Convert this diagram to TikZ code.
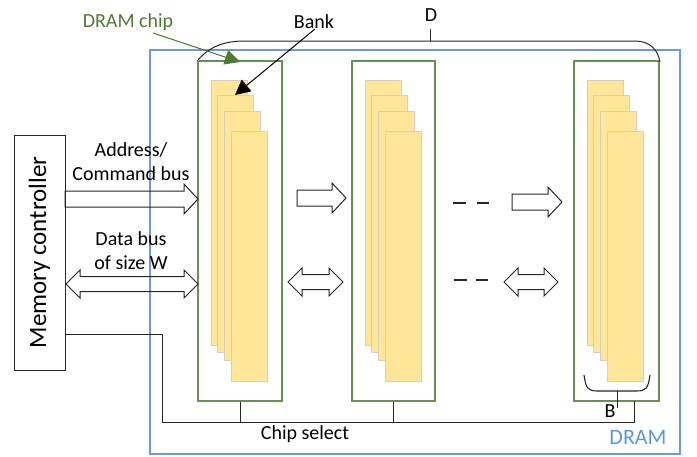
\documentclass[tikz,border=0pt]{standalone}
\usepackage{fontspec}
\setmainfont{Carlito}
\usetikzlibrary{arrows.meta}
\definecolor{chipgreen}{HTML}{6A8F4E}
\definecolor{labgreen}{HTML}{4E7A34}
\definecolor{bankfill}{HTML}{FFE699}
\definecolor{bankedge}{HTML}{D6CFBE}
\definecolor{dramblue}{HTML}{6C9BDB}
\definecolor{dramtext}{HTML}{5B9BD5}
\newcommand\blkR[3]{%
  \draw[blockarrow] (#1,#3-8) -- (#2-14,#3-8) -- (#2-14,#3-15) -- (#2,#3) -- (#2-14,#3+15) -- (#2-14,#3+8) -- (#1,#3+8) -- cycle;}
\newcommand\blkD[3]{%
  \draw[blockarrow] (#1,#3) -- (#1+14,#3-14) -- (#1+14,#3-7.5) -- (#2-14,#3-7.5) -- (#2-14,#3-14) -- (#2,#3) -- (#2-14,#3+14) -- (#2-14,#3+7.5) -- (#1+14,#3+7.5) -- (#1+14,#3+14) -- cycle;}
\begin{document}
\begin{tikzpicture}[x=1pt,y=-1pt,
  txt/.style={font=\fontsize{20}{24}\selectfont, inner sep=0pt, align=center},
  chipbox/.style={draw=chipgreen, line width=1.2pt, fill=white, minimum height=340pt, inner sep=0pt},
  bankbox/.style={draw=bankedge, line width=0.8pt, fill=bankfill, inner sep=0pt, minimum width=36pt},
  blockarrow/.style={draw=black!85, line width=1pt, line join=miter},
  wire/.style={draw=black!85, line width=1pt},
  dashline/.style={draw=black!85, line width=1.3pt}]
\useasboundingbox (0,0) rectangle (697,456);
% DRAM outline
\draw[dramblue, line width=1.2pt] (150,50) rectangle (680,454);
\node[txt, text=dramtext, font=\fontsize{22}{26}\selectfont] (dramlab) at (638,437) {DRAM};
% memory controller
\node[draw=black!85, line width=1pt, rotate=90, minimum width=235pt, minimum height=51pt, inner sep=0pt,
  font=\fontsize{25}{30}\selectfont] (mc) at (39.5,252.5) {Memory controller};
% chips
\node[chipbox, minimum width=84pt] (chip1) at (240,231) {};
\node[chipbox, minimum width=83pt] (chip2) at (393.5,231) {};
\node[chipbox, minimum width=85pt] (chip3) at (616.5,231) {};
% banks
\foreach \c/\L in {1/198, 2/352, 3/574}{
  \node[bankbox, minimum height=265pt] (b\c a) at (\L+31,212.5) {};
  \node[bankbox, minimum height=257pt] (b\c b) at (\L+37,223.5) {};
  \node[bankbox, minimum height=249pt] (b\c c) at (\L+44,235.5) {};
  \node[bankbox, minimum height=250pt] (b\c d) at (\L+51,256) {};
}
% D arc
\coordinate (dl) at (198,60);
\coordinate (dr) at (660,62);
\coordinate (dtick) at (430,41);
\draw[wire] (dl) .. controls (210,46) and (225,41) .. (245,41) -- (635,41) .. controls (650,41) and (658,50) .. (dr);
\draw[wire] (dtick) -- (430,29);
\node[txt] (dlab) at (431,15) {D};
% labels and pointer arrows
\node[txt, text=labgreen] (chiplab) at (128,22) {DRAM chip};
\node[txt] (banklab) at (314,22) {Bank};
\draw[labgreen, line width=1pt, -{Triangle[length=15pt,width=15pt]}] (153,33) -- (240,62);
\draw[black, line width=1pt, -{Triangle[length=15pt,width=15pt]}] (315,29) -- (235,95);
% buses
\node[txt] (addrlab) at (131,161.5) {Address/\\Command bus};
\node[txt] (datalab) at (131,250.5) {Data bus\\of size W};
\blkR{65}{198}{199}
\blkD{66}{198}{284}
\blkR{297}{346}{198}
\blkD{288}{343}{282}
\blkR{512}{562}{202}
\blkD{504}{558}{282}
% dashes
\draw[dashline] (453,203) -- (466,203) (477,203) -- (489,203);
\draw[dashline] (454,280) -- (467,280) (476,280) -- (488,280);
% chip select
\coordinate (cs0) at (65,334);
\coordinate (cs3) at (634,401);
\draw[wire] (cs0) -| (162,422) -| (cs3);
\draw[wire] (chip1.south) -- (chip1.south |- 0,422);
\draw[wire] (chip2.south) -- (chip2.south |- 0,422);
\node[txt] (cslab) at (305,434) {Chip select};
% brace B
\draw[wire, line width=1.1pt] (584,375) .. controls (586,389) and (588,391) .. (598,391) -- (636,391) .. controls (646,391) and (648,389) .. (650,375);
\draw[wire] (617,391) -- (617,408);
\node[txt] (blab) at (610,411) {B};
\end{tikzpicture}
\end{document}
